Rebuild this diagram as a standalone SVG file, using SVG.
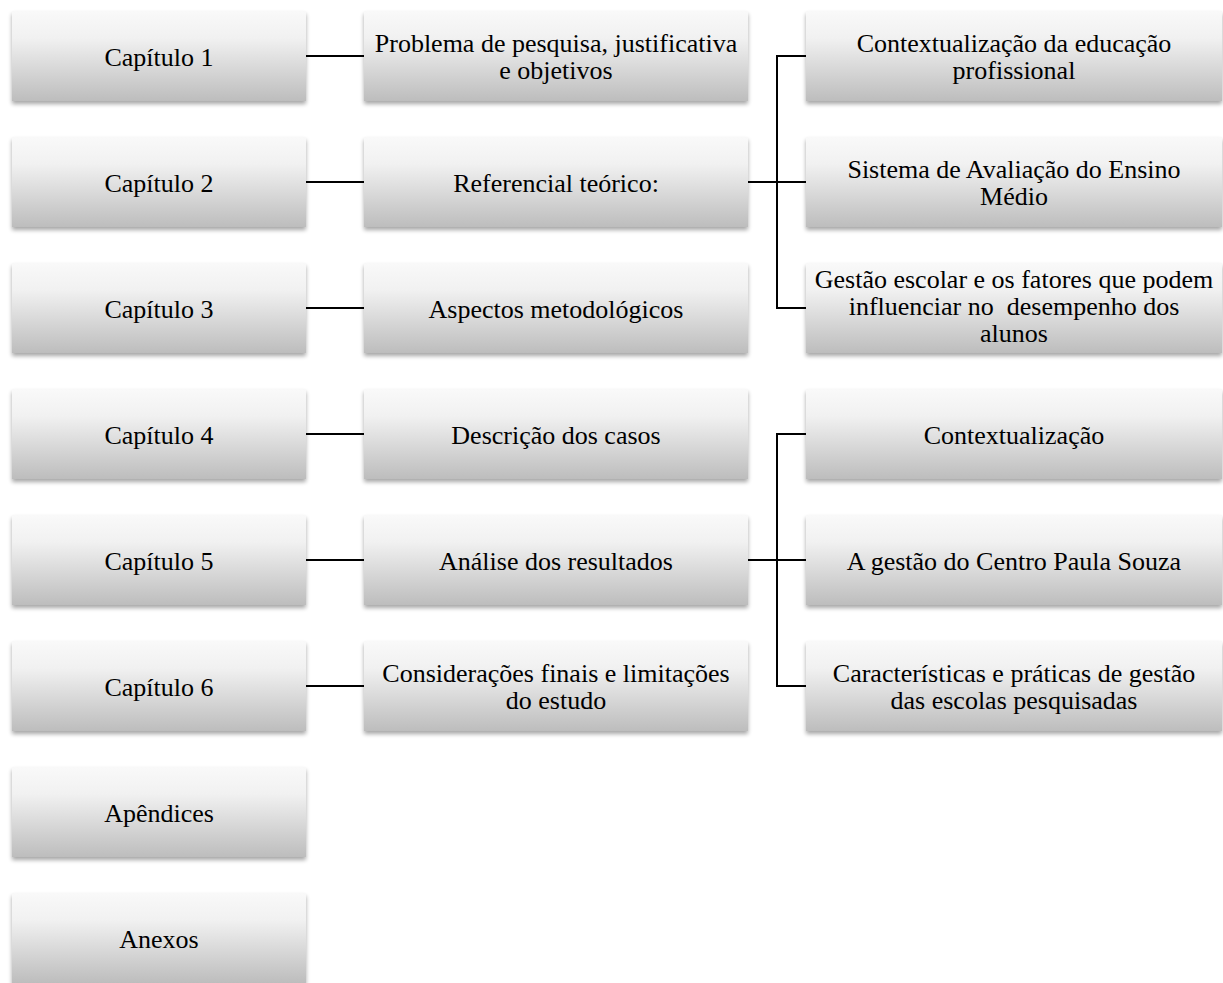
<svg xmlns="http://www.w3.org/2000/svg" width="1223" height="983" viewBox="0 0 1223 983">
<style>
.box{fill:url(#g);filter:url(#sh)}
.t{font-family:"Liberation Serif","Times New Roman",serif;font-size:26px;fill:#000;text-anchor:middle}
.c{stroke:#000;stroke-width:2;fill:none}
</style>
<defs>
<linearGradient id="g" x1="0" y1="0" x2="0" y2="1">
<stop offset="0" stop-color="#f9f9f9"/>
<stop offset="0.3" stop-color="#f1f1f1"/>
<stop offset="1" stop-color="#bdbdbd"/>
</linearGradient>
<filter id="sh" x="-5%" y="-10%" width="110%" height="130%">
<feGaussianBlur in="SourceAlpha" stdDeviation="2"/>
<feOffset dx="0" dy="3" result="b"/>
<feComponentTransfer><feFuncA type="linear" slope="0.35"/></feComponentTransfer>
<feMerge><feMergeNode/><feMergeNode in="SourceGraphic"/></feMerge>
</filter>
</defs>
<g id="connectors">
<line class="c" x1="306" y1="56" x2="364" y2="56"/>
<line class="c" x1="306" y1="182" x2="364" y2="182"/>
<line class="c" x1="306" y1="308" x2="364" y2="308"/>
<line class="c" x1="306" y1="434" x2="364" y2="434"/>
<line class="c" x1="306" y1="560" x2="364" y2="560"/>
<line class="c" x1="306" y1="686" x2="364" y2="686"/>
<line class="c" x1="748" y1="182" x2="777" y2="182" stroke-width="3"/>
<path class="c" d="M806 56H777V308H806M777 182H806"/>
<line class="c" x1="748" y1="560" x2="777" y2="560" stroke-width="3"/>
<path class="c" d="M806 434H777V686H806M777 560H806"/>
</g>
<g id="n-cap1"><rect class="box" x="12" y="11" width="294" height="90"/><text class="t" x="159" y="66">Capítulo 1</text></g>
<g id="n-cap2"><rect class="box" x="12" y="137" width="294" height="90"/><text class="t" x="159" y="192">Capítulo 2</text></g>
<g id="n-cap3"><rect class="box" x="12" y="263" width="294" height="90"/><text class="t" x="159" y="318">Capítulo 3</text></g>
<g id="n-cap4"><rect class="box" x="12" y="389" width="294" height="90"/><text class="t" x="159" y="444">Capítulo 4</text></g>
<g id="n-cap5"><rect class="box" x="12" y="515" width="294" height="90"/><text class="t" x="159" y="570">Capítulo 5</text></g>
<g id="n-cap6"><rect class="box" x="12" y="641" width="294" height="90"/><text class="t" x="159" y="696">Capítulo 6</text></g>
<g id="n-apendices"><rect class="box" x="12" y="767" width="294" height="90"/><text class="t" x="159" y="822">Apêndices</text></g>
<g id="n-anexos"><rect class="box" x="12" y="893" width="294" height="90"/><text class="t" x="159" y="948">Anexos</text></g>
<g id="n-problema"><rect class="box" x="364" y="11" width="384" height="90"/><text class="t" x="556" y="52">Problema de pesquisa, justificativa</text><text class="t" x="556" y="79">e objetivos</text></g>
<g id="n-referencial"><rect class="box" x="364" y="137" width="384" height="90"/><text class="t" x="556" y="192">Referencial teórico:</text></g>
<g id="n-aspectos"><rect class="box" x="364" y="263" width="384" height="90"/><text class="t" x="556" y="318">Aspectos metodológicos</text></g>
<g id="n-descricao"><rect class="box" x="364" y="389" width="384" height="90"/><text class="t" x="556" y="444">Descrição dos casos</text></g>
<g id="n-analise"><rect class="box" x="364" y="515" width="384" height="90"/><text class="t" x="556" y="570">Análise dos resultados</text></g>
<g id="n-consideracoes"><rect class="box" x="364" y="641" width="384" height="90"/><text class="t" x="556" y="682">Considerações finais e limitações</text><text class="t" x="556" y="709">do estudo</text></g>
<g id="n-contexto-edu"><rect class="box" x="806" y="11" width="416" height="90"/><text class="t" x="1014" y="52">Contextualização da educação</text><text class="t" x="1014" y="79">profissional</text></g>
<g id="n-sistema"><rect class="box" x="806" y="137" width="416" height="90"/><text class="t" x="1014" y="178">Sistema de Avaliação do Ensino</text><text class="t" x="1014" y="205">Médio</text></g>
<g id="n-gestao"><rect class="box" x="806" y="263" width="416" height="90"/><text class="t" x="1014" y="288">Gestão escolar e os fatores que podem</text><text class="t" x="1014" y="315" xml:space="preserve">influenciar no  desempenho dos</text><text class="t" x="1014" y="342">alunos</text></g>
<g id="n-contextualizacao"><rect class="box" x="806" y="389" width="416" height="90"/><text class="t" x="1014" y="444">Contextualização</text></g>
<g id="n-gestao-cps"><rect class="box" x="806" y="515" width="416" height="90"/><text class="t" x="1014" y="570">A gestão do Centro Paula Souza</text></g>
<g id="n-caracteristicas"><rect class="box" x="806" y="641" width="416" height="90"/><text class="t" x="1014" y="682">Características e práticas de gestão</text><text class="t" x="1014" y="709">das escolas pesquisadas</text></g>
</svg>
